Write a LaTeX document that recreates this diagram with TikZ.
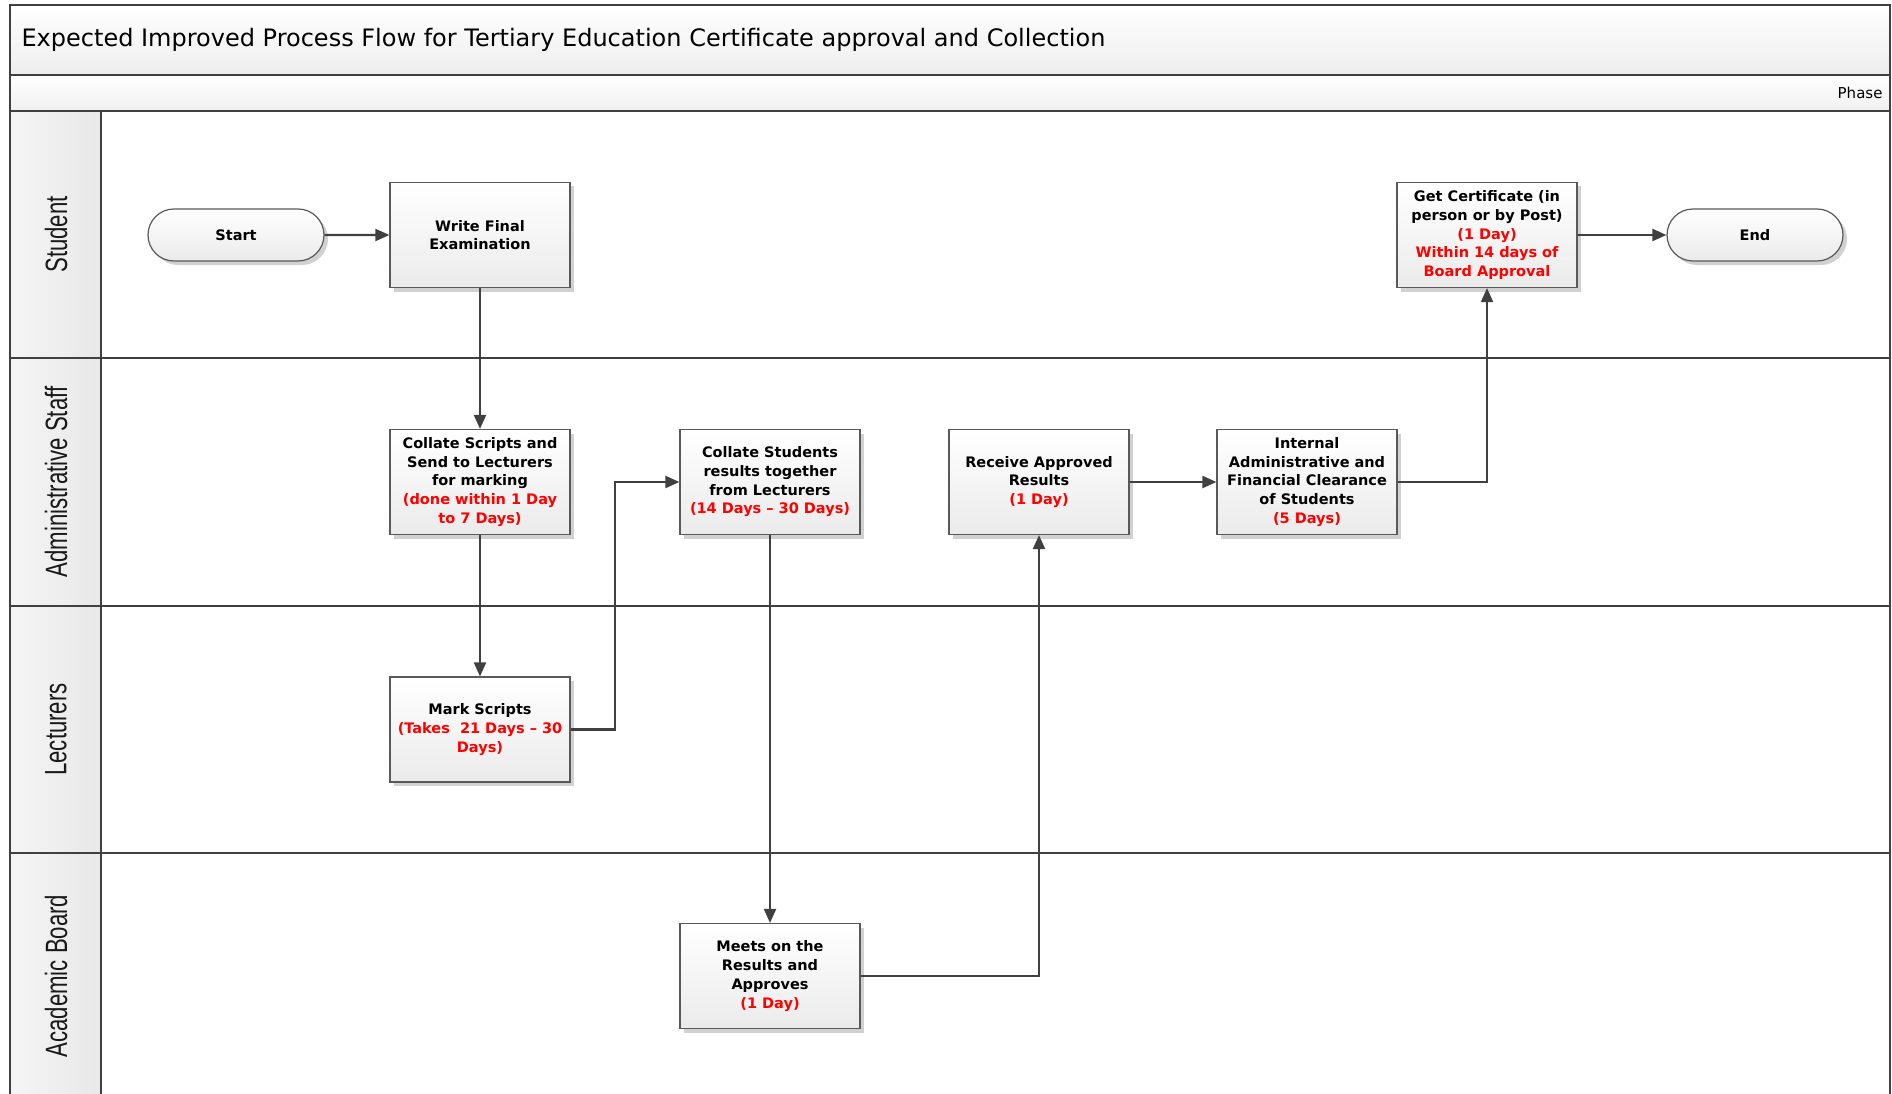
\documentclass[tikz,border=0pt]{standalone}
\usepackage{fontspec}
\setmainfont{DejaVu Sans}
\newfontfamily\lanefont[FakeStretch=0.72]{Liberation Sans}
\usetikzlibrary{arrows.meta,shapes.misc,shadows}
\definecolor{edge}{HTML}{404040}
\definecolor{boxline}{HTML}{595959}
\definecolor{redtxt}{HTML}{FF0000}
\newcommand{\rd}[1]{\textcolor{redtxt}{#1}}
\begin{document}
\begin{tikzpicture}[x=1pt,y=-1pt,
 frame/.style={draw=edge,line width=1.8pt},
 proc/.style={draw=boxline,line width=1.2pt,top color=white,bottom color=black!8,
   minimum width=180pt,minimum height=105pt,inner sep=2pt,align=center,
   font=\fontsize{14.5}{18.7}\selectfont\bfseries,
   drop shadow={shadow xshift=4pt,shadow yshift=-4pt,fill=black!18,opacity=1}},
 term/.style={proc,rounded rectangle,minimum height=52pt},
 conn/.style={draw=edge,line width=2.2pt,-{Triangle[length=14pt,width=12pt]}},
 lanelabel/.style={font=\lanefont\fontsize{30.8}{32}\selectfont,rotate=90,text=black!90}
]
\useasboundingbox (0,0) rectangle (1892,1094);
\fill[white] (0,0) rectangle (1892,1094);
% title and phase bands
\shade[top color=white,bottom color=black!7] (10,5) rectangle (1890,75);
\shade[top color=white,bottom color=black!6] (10,75) rectangle (1890,111);
\draw[frame] (10,5) rectangle (1890,75);
\draw[frame] (10,75) rectangle (1890,111);
\node[anchor=west,font=\fontsize{24}{28}\selectfont] (title) at (18,40) {Expected Improved Process Flow for Tertiary Education Certificate approval and Collection};
\node[anchor=east,font=\fontsize{15}{18}\selectfont] (phase) at (1886,93) {Phase};
% lanes
\foreach \ya/\yb in {111/358,358/606,606/853,853/1110}{
  \shade[left color=black!4,right color=black!9] (10,\ya) rectangle (101,\yb);
  \draw[frame] (10,\ya) rectangle (101,\yb);
  \draw[frame] (101,\ya) rectangle (1890,\yb);
}
\node[lanelabel] (l1) at (56,234.5) {Student};
\node[lanelabel] (l2) at (56,482) {Administrative Staff};
\node[lanelabel] (l3) at (56,729.5) {Lecturers};
\node[lanelabel] (l4) at (56,976) {Academic Board};
% nodes
\node[term] (start) at (236,235) {Start};
\node[proc] (write) at (480,235) {Write Final\\Examination};
\node[proc] (getcert) at (1487,235) {Get Certificate (in\\person or by Post)\\\rd{(1 Day)}\\\rd{Within 14 days of}\\\rd{Board Approval}};
\node[term] (end) at (1755,235) {End};
\node[proc] (collate) at (480,482) {Collate Scripts and\\Send to Lecturers\\for marking\\\rd{(done within 1 Day}\\\rd{to 7 Days)}};
\node[proc] (colstud) at (770,482) {Collate Students\\results together\\from Lecturers\\\rd{(14 Days -- 30 Days)}};
\node[proc] (receive) at (1039,482) {Receive Approved\\Results\\\rd{(1 Day)}};
\node[proc] (internal) at (1307,482) {Internal\\Administrative and\\Financial Clearance\\of Students\\\rd{(5 Days)}};
\node[proc] (mark) at (480,729.5) {Mark Scripts\\\rd{(Takes\ \ 21 Days -- 30}\\\rd{Days)}};
\node[proc] (meets) at (770,976) {Meets on the\\Results and\\Approves\\\rd{(1 Day)}};
% connectors
\draw[conn] (start) -- (write);
\draw[conn] (write) -- (collate);
\draw[conn] (collate) -- (mark);
\draw[conn] (mark.east) -- ++(44,0) |- (colstud.west);
\draw[conn] (colstud) -- (meets);
\draw[conn] (meets.east) -| (receive.south);
\draw[conn] (receive) -- (internal);
\draw[conn] (internal.east) -| (getcert.south);
\draw[conn] (getcert) -- (end);
\end{tikzpicture}
\end{document}
